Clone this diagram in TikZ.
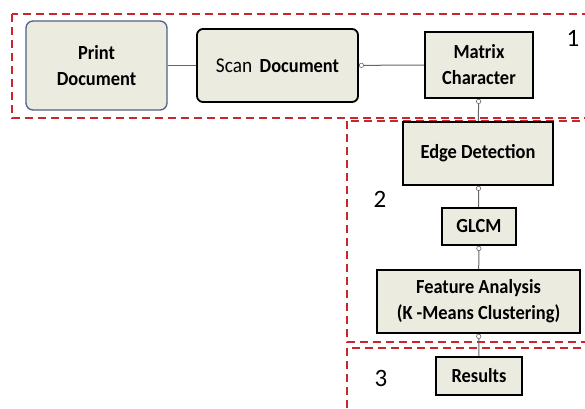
\documentclass[tikz,border=0pt]{standalone}
\usepackage{fontspec}
\setmainfont{Carlito}
\newfontfamily\blockfont[FakeStretch=0.92]{Carlito}
\usepackage{xcolor}
\usetikzlibrary{arrows.meta,positioning}
\definecolor{boxfill}{HTML}{EBEBE0}
\definecolor{zonered}{HTML}{C8282D}
\definecolor{printedge}{HTML}{4F6187}

\begin{document}
\begin{tikzpicture}[x=1pt,y=-1pt,>=stealth,
	block/.style={draw=black,line width=1.8pt,fill=boxfill,align=center,font=\blockfont\fontsize{20}{26}\selectfont\bfseries},
	zone/.style={draw=zonered,line width=2.2pt,dash pattern=on 8pt off 5pt},
	link/.style={draw=gray!80!black,line width=1pt},
	knob/.style={{Circle[open,length=5pt,width=5pt,line width=0.6pt]}-},
	zonenum/.style={font=\fontsize{25}{28}\selectfont}]
	\useasboundingbox (0,0) rectangle (585,408);
	% zones
	\draw[zone] (12,14) rectangle (600,118);
	\draw[zone] (347,121) rectangle (600,342);
	\draw[zone] (347,348) rectangle (600,420);
	\node[zonenum] (n1) at (573,38) {1};
	\node[zonenum] (n2) at (380,199) {2};
	\node[zonenum] (n3) at (381,378) {3};
	% blocks
	\node[block,draw=printedge,line width=1.3pt,rounded corners=7pt,minimum width=141pt,minimum height=89pt] (print) at (96.5,65.5) {Print\\Document};
	\node[block,rounded corners=6pt,minimum width=161pt,minimum height=73pt] (scan) at (277.5,65.5) {{\mdseries\fontsize{21}{26}\selectfont Scan}\, Document};
	\node[block,minimum width=108pt,minimum height=66pt] (matrix) at (479,65) {Matrix\\Character};
	\node[block,minimum width=150pt,minimum height=63pt] (edge) at (478,153.5) {Edge Detection};
	\node[block,minimum width=74pt,minimum height=37pt] (glcm) at (479,226.5) {GLCM};
	\node[block,minimum width=203pt,minimum height=63pt] (feature) at (478.5,301.5) {Feature Analysis\\(K -Means Clustering)};
	\node[block,minimum width=86pt,minimum height=38pt] (results) at (479,376) {Results};
	% links
	\draw[link] (print) -- (scan);
	\draw[link,knob] (scan) -- (matrix);
	\draw[link,knob] (matrix) -- (edge);
	\draw[link,knob] (edge) -- (glcm);
	\draw[link,knob] (glcm) -- (feature);
	\draw[link,knob] (feature) -- (results);
\end{tikzpicture}
\end{document}
